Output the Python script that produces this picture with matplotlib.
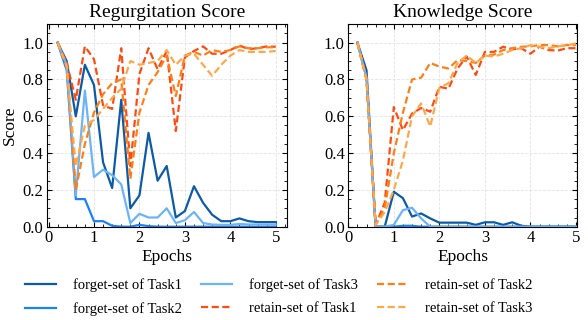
import matplotlib
matplotlib.use("Agg")
import matplotlib.pyplot as plt
from matplotlib.ticker import AutoMinorLocator, MultipleLocator

plt.rcParams['font.family'] = ['Liberation Serif', 'DejaVu Serif']
plt.rcParams['mathtext.fontset'] = 'stix'

epochs = [0.2, 0.4, 0.6, 0.8, 1.0, 1.2, 1.4, 1.6, 1.8, 2.0, 2.2, 2.4, 2.6,
          2.8, 3.0, 3.2, 3.4, 3.6, 3.8, 4.0, 4.2, 4.4, 4.6, 4.8, 5.0]

# Regurgitation Score
reg_forget1 = [1.0, 0.90, 0.60, 0.88, 0.77, 0.35, 0.21, 0.69, 0.10, 0.17, 0.51, 0.25, 0.33,
               0.05, 0.085, 0.22, 0.13, 0.065, 0.03, 0.03, 0.045, 0.03, 0.025, 0.025, 0.025]
reg_forget2 = [1.0, 0.85, 0.15, 0.15, 0.03, 0.03, 0.005, 0.0, 0.0, 0.01, 0.003, 0.0, 0.0,
               0.0, 0.0, 0.0, 0.0, 0.0, 0.0, 0.0, 0.0, 0.0, 0.0, 0.0, 0.0]
reg_forget3 = [1.0, 0.88, 0.17, 0.74, 0.27, 0.31, 0.28, 0.23, 0.02, 0.07, 0.05, 0.05, 0.10,
               0.02, 0.035, 0.08, 0.02, 0.012, 0.01, 0.01, 0.015, 0.012, 0.012, 0.012, 0.012]
reg_retain1 = [1.0, 0.89, 0.69, 0.98, 0.91, 0.66, 0.64, 0.97, 0.33, 0.83, 0.97, 0.855, 0.955,
               0.52, 0.92, 0.955, 0.98, 0.94, 0.94, 0.96, 0.985, 0.965, 0.97, 0.98, 0.978]
reg_retain2 = [1.0, 0.88, 0.20, 0.45, 0.62, 0.72, 0.78, 0.80, 0.26, 0.62, 0.77, 0.84, 0.93,
               0.71, 0.93, 0.95, 0.93, 0.96, 0.95, 0.96, 0.98, 0.97, 0.97, 0.975, 0.975]
reg_retain3 = [1.0, 0.87, 0.33, 0.55, 0.58, 0.64, 0.70, 0.75, 0.90, 0.88, 0.89, 0.90, 0.96,
               0.88, 0.93, 0.94, 0.88, 0.82, 0.88, 0.93, 0.96, 0.95, 0.95, 0.95, 0.955]

# Knowledge Score
kno_forget1 = [1.0, 0.85, 0.0, 0.0, 0.19, 0.155, 0.055, 0.072, 0.045, 0.022, 0.022, 0.022, 0.022,
               0.01, 0.024, 0.024, 0.01, 0.024, 0.005, 0.0, 0.0, 0.0, 0.0, 0.0, 0.0]
kno_forget2 = [1.0, 0.81, 0.0, 0.0, 0.0, 0.005, 0.005, 0.0, 0.0, 0.0, 0.0, 0.0, 0.0,
               0.0, 0.0, 0.0, 0.0, 0.0, 0.0, 0.0, 0.0, 0.0, 0.0, 0.0, 0.0]
kno_forget3 = [1.0, 0.81, 0.0, 0.0, 0.01, 0.09, 0.103, 0.045, 0.0, 0.0, 0.0, 0.0, 0.0,
               0.0, 0.0, 0.0, 0.0, 0.0, 0.0, 0.0, 0.0, 0.0, 0.0, 0.0, 0.0]
kno_retain1 = [1.0, 0.80, 0.01, 0.13, 0.65, 0.525, 0.615, 0.645, 0.625, 0.76, 0.75, 0.86, 0.925,
               0.825, 0.95, 0.95, 0.978, 0.964, 0.97, 0.94, 0.978, 0.96, 0.957, 0.97, 0.97]
kno_retain2 = [1.0, 0.80, 0.01, 0.10, 0.40, 0.62, 0.80, 0.81, 0.89, 0.87, 0.86, 0.905, 0.90,
               0.89, 0.93, 0.935, 0.96, 0.97, 0.978, 0.98, 0.987, 0.987, 0.98, 0.987, 0.987]
kno_retain3 = [1.0, 0.80, 0.01, 0.08, 0.20, 0.36, 0.60, 0.67, 0.545, 0.755, 0.78, 0.89, 0.93,
               0.89, 0.93, 0.925, 0.94, 0.96, 0.97, 0.987, 0.978, 0.97, 0.98, 0.987, 0.995]

labels = ["forget-set of Task1", "forget-set of Task2", "forget-set of Task3",
          "retain-set of Task1", "retain-set of Task2", "retain-set of Task3"]
colors = ["#0d5aa7", "#1a82f7", "#6cb4f8", "#ff4b12", "#ff7f15", "#ffa84a"]
styles = ["-", "-", "-", "--", "--", "--"]

fig = plt.figure(figsize=(5.88, 3.20), dpi=100)
ax1 = fig.add_axes([46.7 / 588, 1 - 226.7 / 320, 240 / 588, 202.4 / 320])
ax2 = fig.add_axes([348.3 / 588, 1 - 226.7 / 320, 229 / 588, 202.4 / 320])

panels = [
    (ax1, "Regurgitation Score",
     [reg_forget1, reg_forget2, reg_forget3, reg_retain1, reg_retain2, reg_retain3]),
    (ax2, "Knowledge Score",
     [kno_forget1, kno_forget2, kno_forget3, kno_retain1, kno_retain2, kno_retain3]),
]

handles = []
for ax, title, series in panels:
    hs = []
    for vals, lab, c, ls in zip(series, labels, colors, styles):
        h, = ax.plot(epochs, vals, ls, color=c, lw=1.6, label=lab,
                     dashes=(3.2, 1.6) if ls == "--" else (None, None))
        hs.append(h)
    handles = hs
    ax.set_title(title, fontsize=14, pad=5)
    ax.set_xlabel("Epochs", fontsize=12.5, labelpad=2)
    ax.set_ylim(0, 1.1)
    ax.xaxis.set_major_locator(MultipleLocator(1))
    ax.yaxis.set_major_locator(MultipleLocator(0.2))
    ax.xaxis.set_minor_locator(AutoMinorLocator(5))
    ax.yaxis.set_minor_locator(AutoMinorLocator(4))
    ax.tick_params(which="both", direction="in", top=True, right=True, labelsize=12)
    ax.tick_params(which="major", length=3.5, width=0.8, pad=2.5)
    ax.tick_params(which="minor", length=2, width=0.6)
    ax.grid(True, which="major", ls="--", lw=0.6, color="#e3e3e3")
    ax.set_yticklabels([f"{v:.1f}" for v in ax.get_yticks()])

ax1.set_xlim(-0.04, 5.24)
ax2.set_xlim(0, 5.03)
ax1.set_ylabel("Score", fontsize=12.5, labelpad=3)

fig.legend(handles, labels, loc="upper left", ncol=3, frameon=False,
           bbox_to_anchor=(25 / 588, 1 - 278 / 320), borderaxespad=0, borderpad=0,
           fontsize=10.5, handlelength=2.1, columnspacing=1.3, handletextpad=1.2,
           labelspacing=0.7)

fig.savefig("out.png", dpi=100)
